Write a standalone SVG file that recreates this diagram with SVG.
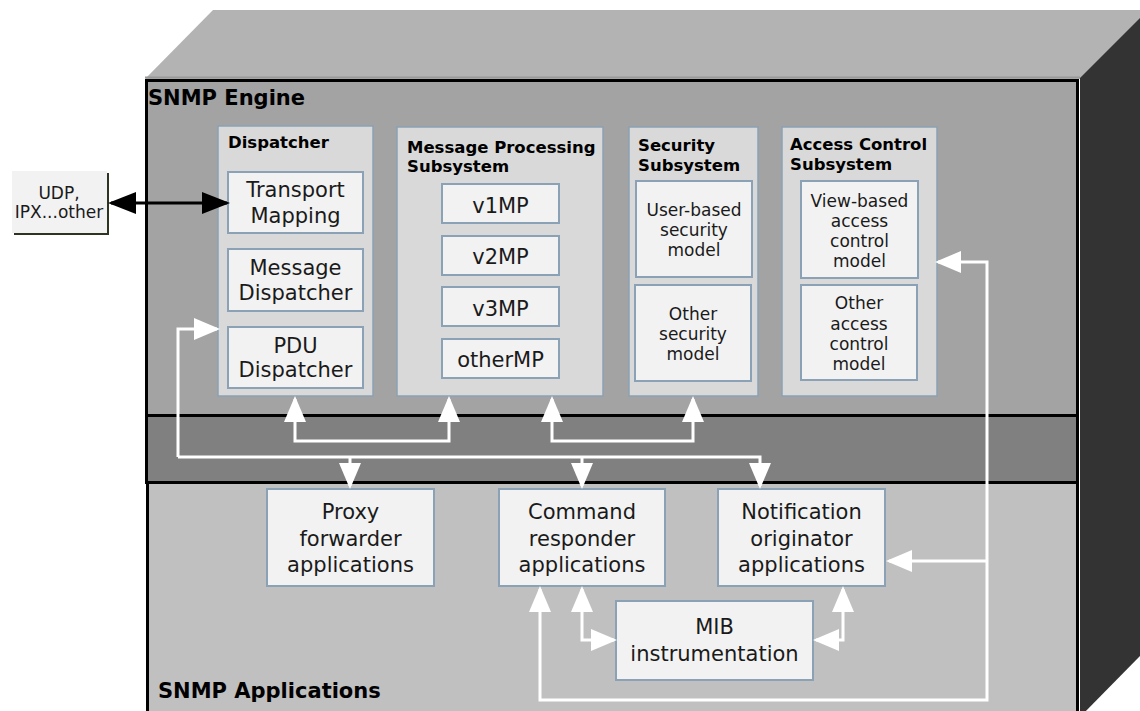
<svg xmlns="http://www.w3.org/2000/svg" width="1140" height="711" viewBox="0 0 1140 711">
  <style>
    text { font-family: "DejaVu Sans", Verdana, sans-serif; fill: #1a1a1a; }
    .title { font-weight: bold; font-size: 21px; fill: #000; }
    .sub { font-weight: bold; font-size: 16.5px; fill: #000; }
    .lbl { font-size: 21px; text-anchor: middle; }
    .sm { font-size: 17px; text-anchor: middle; }
    .grp { fill: #d9d9d9; stroke: #8ba1b5; stroke-width: 1.5; }
    .box { fill: #f2f2f2; stroke: #8ba1b5; stroke-width: 2; }
    .wire { fill: none; stroke: #fff; stroke-width: 3; }
    .wire.end { marker-end: url(#wh); }
    .wire.both { marker-start: url(#wh); marker-end: url(#wh); }
  </style>
  <defs>
    <marker id="wh" markerUnits="userSpaceOnUse" markerWidth="26" markerHeight="22" refX="23" refY="11" orient="auto-start-reverse" viewBox="0 0 26 22">
      <path d="M0,0 L26,11 L0,22 z" fill="#fff"/>
    </marker>
    <marker id="bh" markerUnits="userSpaceOnUse" markerWidth="28" markerHeight="22" refX="25" refY="11" orient="auto-start-reverse" viewBox="0 0 28 22">
      <path d="M0,0 L28,11 L0,22 z" fill="#000"/>
    </marker>
  </defs>

  <rect width="1140" height="711" fill="#fff"/>

  <!-- box body: top and side faces -->
  <g id="cabinet">
    <polygon points="145,79 213,10 1150,10 1080,79" fill="#b3b3b3"/>
    <line x1="145" y1="77.5" x2="1080" y2="77.5" stroke="#999" stroke-width="2"/>
    <polygon points="1080,78 1148,10 1148,648 1080,717" fill="#333"/>
  </g>

  <!-- engine, middle band, applications layer -->
  <g id="engine">
    <rect x="146.5" y="80.5" width="931" height="335" fill="#a3a3a3" stroke="#000" stroke-width="3"/>
    <text class="title" x="148" y="105">SNMP Engine</text>
  </g>
  <rect x="146.5" y="415.5" width="931" height="67" fill="#808080" stroke="#000" stroke-width="3"/>
  <g id="applications">
    <rect x="147.5" y="482.5" width="930" height="240" fill="#c0c0c0" stroke="#000" stroke-width="3"/>
    <text class="title" x="158" y="698">SNMP Applications</text>
  </g>

  <!-- transport endpoint -->
  <g id="udp">
    <rect x="14" y="173" width="95" height="62" fill="#2d3520"/>
    <rect x="12" y="171" width="95" height="62" fill="#f2f2f2"/>
    <text class="sm" x="59" y="199">UDP,</text>
    <text class="sm" x="59" y="218">IPX...other</text>
  </g>

  <!-- dispatcher -->
  <g id="dispatcher">
    <rect class="grp" x="218" y="126" width="155" height="270"/>
    <text class="sub" x="228" y="148" font-size="16">Dispatcher</text>
  </g>
  <g id="transport-mapping">
    <rect class="box" x="228" y="172" width="135" height="61"/>
    <text class="lbl" x="295.5" y="197">Transport</text>
    <text class="lbl" x="295.5" y="223">Mapping</text>
  </g>
  <g id="message-dispatcher">
    <rect class="box" x="228" y="249" width="135" height="62"/>
    <text class="lbl" x="295.5" y="275">Message</text>
    <text class="lbl" x="295.5" y="300">Dispatcher</text>
  </g>
  <g id="pdu-dispatcher">
    <rect class="box" x="228" y="327" width="135" height="61"/>
    <text class="lbl" x="295.5" y="353">PDU</text>
    <text class="lbl" x="295.5" y="377">Dispatcher</text>
  </g>

  <!-- message processing -->
  <g id="mp-subsystem">
    <rect class="grp" x="397" y="127" width="206" height="269"/>
    <text class="sub" x="407" y="153">Message Processing</text>
    <text class="sub" x="407" y="172">Subsystem</text>
  </g>
  <g id="v1mp">
    <rect class="box" x="442" y="184" width="117" height="39"/>
    <text class="lbl" x="500.5" y="213">v1MP</text>
  </g>
  <g id="v2mp">
    <rect class="box" x="442" y="236" width="117" height="39"/>
    <text class="lbl" x="500.5" y="264">v2MP</text>
  </g>
  <g id="v3mp">
    <rect class="box" x="442" y="287" width="117" height="39"/>
    <text class="lbl" x="500.5" y="316">v3MP</text>
  </g>
  <g id="othermp">
    <rect class="box" x="442" y="339" width="117" height="39"/>
    <text class="lbl" x="500.5" y="367">otherMP</text>
  </g>

  <!-- security -->
  <g id="security-subsystem">
    <rect class="grp" x="629" y="127" width="129" height="269"/>
    <text class="sub" x="638" y="151">Security</text>
    <text class="sub" x="638" y="171">Subsystem</text>
  </g>
  <g id="usm">
    <rect class="box" x="636" y="181" width="116" height="96"/>
    <text class="sm" x="694" y="216">User-based</text>
    <text class="sm" x="694" y="236">security</text>
    <text class="sm" x="694" y="256">model</text>
  </g>
  <g id="other-security">
    <rect class="box" x="635" y="285" width="116" height="96"/>
    <text class="sm" x="693" y="320">Other</text>
    <text class="sm" x="693" y="340">security</text>
    <text class="sm" x="693" y="360">model</text>
  </g>

  <!-- access control -->
  <g id="access-subsystem">
    <rect class="grp" x="782" y="127" width="155" height="269"/>
    <text class="sub" x="790" y="150">Access Control</text>
    <text class="sub" x="790" y="170">Subsystem</text>
  </g>
  <g id="vacm">
    <rect class="box" x="801" y="181" width="117" height="97"/>
    <text class="sm" x="859.5" y="207">View-based</text>
    <text class="sm" x="859.5" y="227">access</text>
    <text class="sm" x="859.5" y="247">control</text>
    <text class="sm" x="859.5" y="267">model</text>
  </g>
  <g id="other-access">
    <rect class="box" x="801" y="285" width="116" height="95"/>
    <text class="sm" x="859" y="309">Other</text>
    <text class="sm" x="859" y="330">access</text>
    <text class="sm" x="859" y="350">control</text>
    <text class="sm" x="859" y="370">model</text>
  </g>

  <!-- applications -->
  <g id="proxy">
    <rect class="box" x="267" y="489" width="167" height="97"/>
    <text class="lbl" x="350.5" y="519">Proxy</text>
    <text class="lbl" x="350.5" y="546">forwarder</text>
    <text class="lbl" x="350.5" y="572">applications</text>
  </g>
  <g id="command-responder">
    <rect class="box" x="499" y="489" width="166" height="97"/>
    <text class="lbl" x="582" y="519">Command</text>
    <text class="lbl" x="582" y="546">responder</text>
    <text class="lbl" x="582" y="572">applications</text>
  </g>
  <g id="notification-originator">
    <rect class="box" x="718" y="489" width="167" height="97"/>
    <text class="lbl" x="801.5" y="519">Notification</text>
    <text class="lbl" x="801.5" y="546">originator</text>
    <text class="lbl" x="801.5" y="572">applications</text>
  </g>
  <g id="mib">
    <rect class="box" x="616" y="601" width="197" height="79"/>
    <text class="lbl" x="714.5" y="634">MIB</text>
    <text class="lbl" x="714.5" y="661">instrumentation</text>
  </g>

  <!-- connectors -->
  <g id="connectors">
    <line x1="111" y1="203" x2="227" y2="203" stroke="#000" stroke-width="3" marker-start="url(#bh)" marker-end="url(#bh)"/>

    <path class="wire end" d="M178,457 L178,329 L217,329"/>
    <path class="wire end" d="M178,457 L760,457 L760,486"/>
    <path class="wire end" d="M350,457 L350,486"/>
    <path class="wire end" d="M582,457 L582,486"/>

    <path class="wire both" d="M295,399 L295,441 L449,441 L449,399"/>
    <path class="wire both" d="M552,399 L552,441 L693,441 L693,399"/>

    <path class="wire both" d="M938,262 L987,262 L987,700 L540,700 L540,589"/>
    <path class="wire end" d="M987,561 L889,561"/>

    <path class="wire both" d="M582,589 L582,640 L614,640"/>
    <path class="wire both" d="M816,640 L843,640 L843,589"/>
  </g>
</svg>
